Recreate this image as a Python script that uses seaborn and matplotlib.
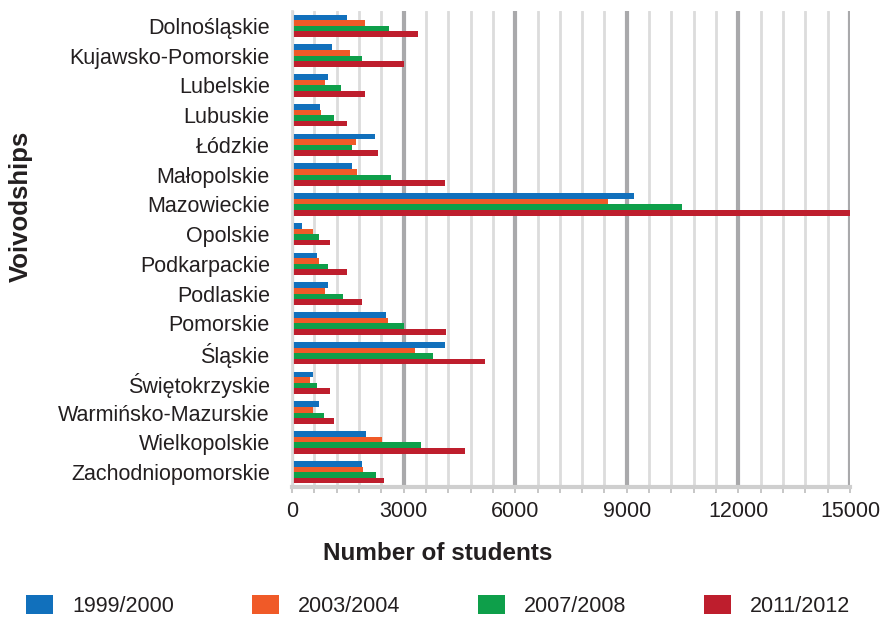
import matplotlib
matplotlib.use("Agg")
import matplotlib.pyplot as plt
from matplotlib.patches import Patch
from matplotlib.ticker import MultipleLocator
import seaborn as sns
import pandas as pd

voivodships = [
    "Dolnośląskie", "Kujawsko-Pomorskie", "Lubelskie", "Lubuskie", "Łódzkie",
    "Małopolskie", "Mazowieckie", "Opolskie", "Podkarpackie", "Podlaskie",
    "Pomorskie", "Śląskie", "Świętokrzyskie", "Warmińsko-Mazurskie",
    "Wielkopolskie", "Zachodniopomorskie",
]
years = ["1999/2000", "2003/2004", "2007/2008", "2011/2012"]

students_1999 = [1470, 1070, 960, 750, 2220, 1600, 9200, 260, 660, 960, 2520, 4100, 560, 720, 2000, 1870]
students_2003 = [1950, 1550, 900, 770, 1710, 1760, 8500, 560, 720, 900, 2570, 3300, 480, 560, 2410, 1900]
students_2007 = [2600, 1870, 1310, 1120, 1600, 2650, 10490, 720, 960, 1360, 3000, 3800, 660, 850, 3460, 2250]
students_2011 = [3400, 3000, 1950, 1470, 2300, 4100, 15000, 1010, 1470, 1870, 4150, 5200, 1010, 1120, 4660, 2460]

colors = ["#1170BC", "#F05A28", "#0E9F4A", "#BE1E2D"]

rows = []
for year, values in zip(years, [students_1999, students_2003, students_2007, students_2011]):
    for name, v in zip(voivodships, values):
        rows.append({"Voivodship": name, "Year": year, "Students": v})
df = pd.DataFrame(rows)

sns.set_theme(style="white")
plt.rcParams["font.family"] = ["Liberation Sans", "DejaVu Sans"]
text_color = "#231F20"

fig = plt.figure(figsize=(8.81, 6.17), dpi=100)
ax = fig.add_axes([292 / 881, 1 - 487 / 617, 558 / 881, 476 / 617])

sns.barplot(
    data=df, y="Voivodship", x="Students", hue="Year",
    order=voivodships, hue_order=years, palette=colors,
    orient="h", width=0.75, saturation=1, legend=False, ax=ax,
    linewidth=0,
)

ax.set_xlim(0, 15000)
ax.xaxis.set_major_locator(MultipleLocator(3000))
ax.xaxis.set_minor_locator(MultipleLocator(600))
ax.set_axisbelow(True)
ax.grid(which="minor", axis="x", color="#dcdcdc", linewidth=2)
ax.grid(which="major", axis="x", color="#a9a9ab", linewidth=3)
ax.grid(axis="y", visible=False)

for side in ["top", "right"]:
    ax.spines[side].set_visible(False)
ax.spines["left"].set_color("#dcdcdc")
ax.spines["left"].set_linewidth(2)
ax.spines["bottom"].set_color("#cfcfcf")
ax.spines["bottom"].set_linewidth(3)

ax.tick_params(axis="x", which="both", direction="out", length=4, width=1.2,
               color="#bdbdbd", bottom=True)
ax.tick_params(axis="x", which="major", labelsize=15.5, labelcolor=text_color, pad=6)
ax.tick_params(axis="y", length=0, labelsize=15.5, labelcolor=text_color, pad=16)

ax.set_xlabel("")
ax.set_ylabel("")

fig.text(438 / 881, 1 - 554 / 617, "Number of students", ha="center", va="center",
         fontsize=17.5, fontweight="bold", color=text_color)
fig.text(21 / 881, 1 - 206 / 617, "Voivodships", ha="center", va="center",
         rotation=90, fontsize=18.5, fontweight="bold", color=text_color)

handles = [Patch(facecolor=c, edgecolor="none", label=y) for c, y in zip(colors, years)]
fig.legend(handles=handles, loc="center left", bbox_to_anchor=(26 / 881, 1 - 606 / 617),
           ncol=4, frameon=False, fontsize=15.5, handlelength=1.25, handleheight=1.0,
           handletextpad=0.9, columnspacing=3.6, borderpad=0, borderaxespad=0,
           labelcolor=text_color)

fig.savefig("out.png", dpi=100)
